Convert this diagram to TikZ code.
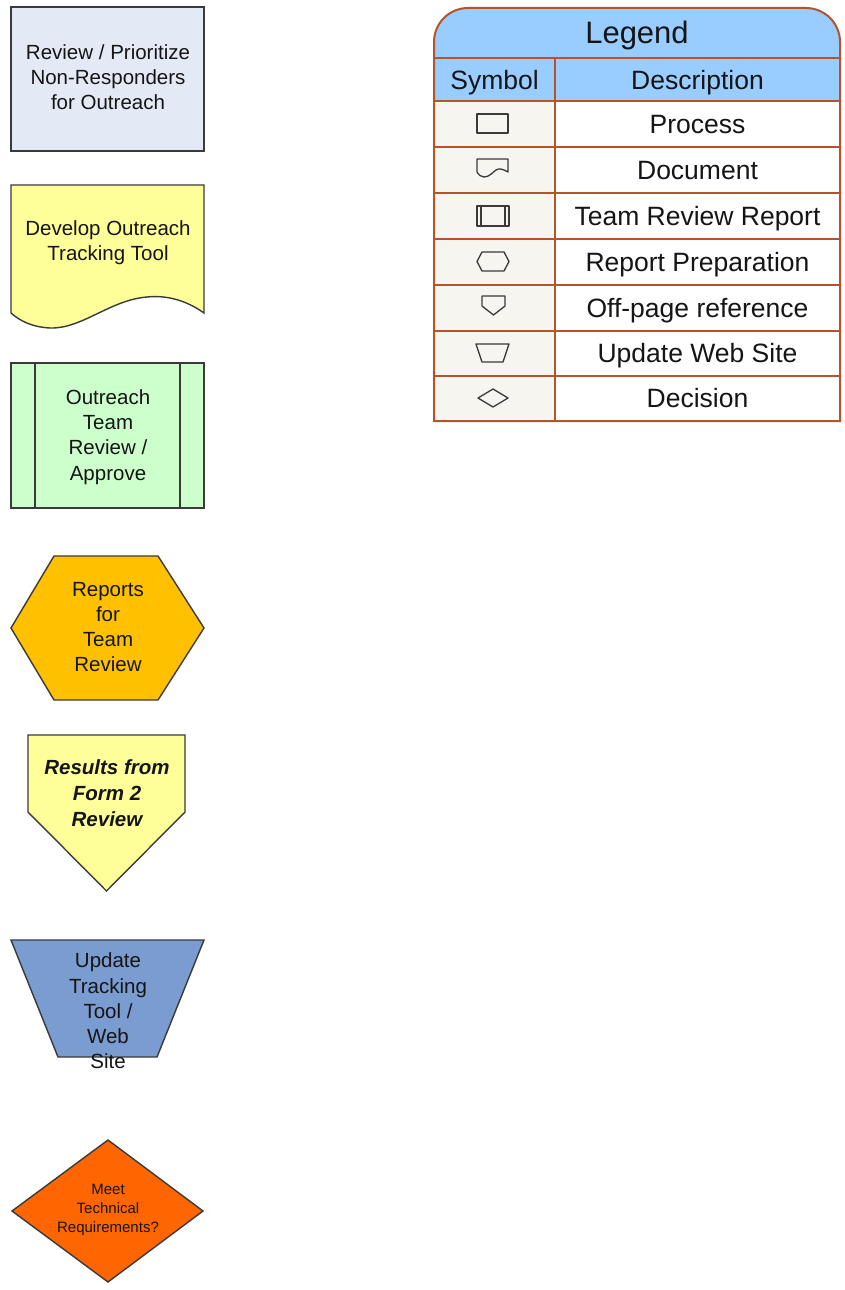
\documentclass[tikz,border=0pt]{standalone}
\usepackage{fontspec}
\setmainfont{Liberation Sans}
\definecolor{edgec}{HTML}{3A3A3A}
\definecolor{procfill}{HTML}{E3E9F5}
\definecolor{docfill}{HTML}{FFFF99}
\definecolor{teamfill}{HTML}{CCFFCC}
\definecolor{hexfill}{HTML}{FFC000}
\definecolor{trapfill}{HTML}{7B9CD0}
\definecolor{decfill}{HTML}{FF6600}
\definecolor{hdrfill}{HTML}{99CCFF}
\definecolor{symfill}{HTML}{F6F5F0}
\definecolor{bordc}{HTML}{B5532A}
\definecolor{txt}{HTML}{151515}
\begin{document}
\begin{tikzpicture}[x=1pt,y=-1pt,
  shp/.style={draw=edgec, line width=1.4pt, line join=miter},
  icon/.style={draw=edgec, line width=1.3pt, line join=round},
  lbl/.style={align=center, inner sep=0pt, text=txt, font=\fontsize{20.5}{25.3}\selectfont},
  lblbi/.style={align=center, inner sep=0pt, text=txt, font=\fontsize{20.5}{26}\selectfont\bfseries\itshape},
  lblsm/.style={align=center, inner sep=0pt, text=txt, font=\fontsize{15}{19}\selectfont},
  legtitle/.style={inner sep=0pt, anchor=base, text=txt, font=\fontsize{31}{36}\selectfont},
  legtxt/.style={inner sep=0pt, anchor=base, text=txt, font=\fontsize{26.5}{30}\selectfont},
  bline/.style={draw=bordc, line width=2pt}]
\useasboundingbox (0,0) rectangle (845,1290);
\fill[white] (0,0) rectangle (845,1290);

% ---------- left column shapes ----------
% Process
\path[shp, fill=procfill] (11,7) rectangle (204,151);
\node[lbl] (proc) at (108,77) {Review / Prioritize\\Non-Responders\\for Outreach};

% Document
\path[shp, fill=docfill] (11,185) -- (204,185) -- (204,313)
  .. controls (186,300) and (166,295) .. (147,297)
  .. controls (110,300) and (82,329) .. (50,328)
  .. controls (32,327) and (20,321) .. (11,313) -- cycle;
\node[lbl] (doc) at (108,243) {Develop Outreach\\Tracking Tool};

% Team review (predefined process)
\path[shp, fill=teamfill] (11,363) rectangle (204,508);
\draw[shp] (35,363) -- (35,508);
\draw[shp] (180,363) -- (180,508);
\node[lbl] (team) at (108,437) {Outreach\\Team\\Review /\\Approve};

% Hexagon
\path[shp, fill=hexfill] (54,556) -- (158,556) -- (204,628) -- (158,700) -- (54,700) -- (11,628) -- cycle;
\node[lbl] (hex) at (108,627) {Reports\\for\\Team\\Review};

% Off-page reference
\path[shp, fill=docfill] (28,735) -- (185,735) -- (185,812) -- (106.5,891) -- (28,812) -- cycle;
\node[lblbi] (off) at (107,793) {Results from\\Form 2\\Review};

% Trapezoid
\path[shp, fill=trapfill] (11,940) -- (204,940) -- (157,1057) -- (58,1057) -- cycle;
\node[lbl] (trap) at (108,1011) {Update\\Tracking\\Tool /\\Web\\Site};

% Decision
\path[shp, fill=decfill] (108,1140) -- (203,1211) -- (108,1282) -- (12,1211) -- cycle;
\node[lblsm] (dec) at (108,1210) {Meet\\Technical\\Requirements?};

% ---------- legend ----------
\fill[symfill] (434,101) rectangle (555,421);
\fill[white] (555,101) rectangle (840,421);
\fill[hdrfill] (434,101) -- (434,42) arc[start angle=180, end angle=90, radius=34pt]
  -- (806,8) arc[start angle=90, end angle=0, radius=34pt] -- (840,101) -- cycle;
% lines
\foreach \yy in {58,101,147,193,239,285,331,376} {
  \draw[bline] (434,\yy) -- (840,\yy);
}
\draw[bline] (555,58) -- (555,421);
\draw[bline] (434,421) -- (434,42) arc[start angle=180, end angle=90, radius=34pt]
  -- (806,8) arc[start angle=90, end angle=0, radius=34pt] -- (840,421) -- cycle;

\node[legtitle] (legend) at (637,44) {Legend};
\node[legtxt] (hsym) at (494.5,89) {Symbol};
\node[legtxt] (hdesc) at (697.5,89) {Description};
\node[legtxt] (d1) at (697.5,133) {Process};
\node[legtxt] (d2) at (697.5,179) {Document};
\node[legtxt] (d3) at (697.5,225) {Team Review Report};
\node[legtxt] (d4) at (697.5,271) {Report Preparation};
\node[legtxt] (d5) at (697.5,317) {Off-page reference};
\node[legtxt] (d6) at (697.5,362.5) {Update Web Site};
\node[legtxt] (d7) at (697.5,407.5) {Decision};

% icons
\draw[icon] (477,114) rectangle (508,133);
\draw[icon] (477,172) -- (477,159) -- (508,159) -- (508,172)
  .. controls (503,169) and (499,168) .. (496,170)
  .. controls (492,173) and (489,177) .. (484,177)
  .. controls (481,177) and (479,175) .. (477,172);
\draw[icon] (477,206) rectangle (509,226);
\draw[icon] (481,206) -- (481,226);
\draw[icon] (505,206) -- (505,226);
\draw[icon] (482,252) -- (504,252) -- (509,261.5) -- (504,271) -- (482,271) -- (477,261.5) -- cycle;
\draw[icon] (482,296) -- (505,296) -- (505,306) -- (493.5,315) -- (482,306) -- cycle;
\draw[icon] (476,344) -- (509,344) -- (503,362) -- (482,362) -- cycle;
\draw[icon] (493,389) -- (508,398) -- (493,407) -- (478,398) -- cycle;
\end{tikzpicture}
\end{document}
